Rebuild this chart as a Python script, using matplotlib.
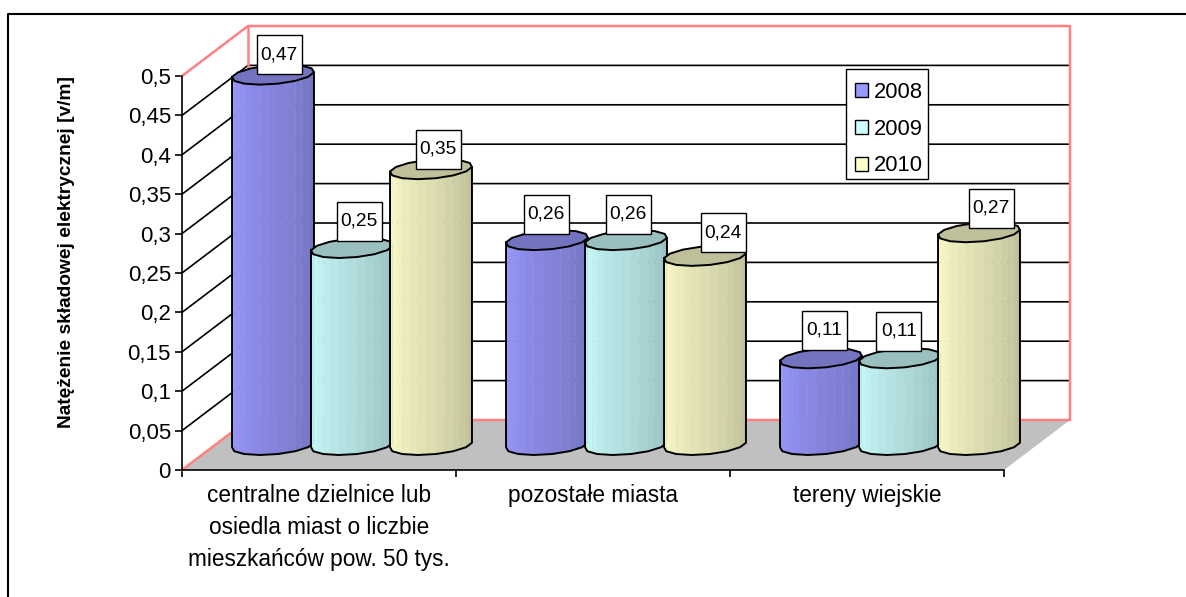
import numpy as np
import matplotlib
matplotlib.use("Agg")
import matplotlib.pyplot as plt
from matplotlib.patches import Patch, Rectangle

plt.rcParams['font.family'] = ['Liberation Sans', 'DejaVu Sans']

# data
categories = ["centralne dzielnice lub\nosiedla miast o liczbie\nmieszkańców pow. 50 tys.",
              "pozostałe miasta", "tereny wiejskie"]
years = ["2008", "2009", "2010"]
v2008 = [0.47, 0.26, 0.11]
v2009 = [0.25, 0.26, 0.11]
v2010 = [0.35, 0.24, 0.27]
yticks = [0, 0.05, 0.1, 0.15, 0.2, 0.25, 0.3, 0.35, 0.4, 0.45, 0.5]
yticklabels = ["0", "0,05", "0,1", "0,15", "0,2", "0,25", "0,3", "0,35", "0,4", "0,45", "0,5"]

colors = [(0.6, 0.6, 1.0), (0.8, 1.0, 1.0), (1.0, 1.0, 0.8)]
PINK = "#ff8080"

# hand placed value labels, pixels from the default spot
label_dx = [[6, -1, 3], [7, 2, -1], [7, 18, 12]]
label_dy = [[20, 26, 28], [27, 26, 27], [20, 23, 24]]

W, H = 1186, 597
fig = plt.figure(figsize=(W/100, H/100), dpi=100)
# front plane of the 3D box
ax = fig.add_axes([182/W, 1-470/H, 822/W, 394/H])
ax.set_xlim(0, 3)
ax.set_ylim(0, 0.5)
ax.patch.set_alpha(0)

# pixel sizes in data units
px = 3/822
py = 0.5/394
DX = 66*px   # full depth shift
DY = 50*py

def proj(x, y, d):
    return x + d*DX, y + d*DY

# only top and left of the chart frame are inside the crop
fig.add_artist(plt.Line2D([8/W, 8/W, 1], [0, 1-14/H, 1-14/H], color='k', lw=1.5,
                          transform=fig.transFigure))

# floor
fx = [proj(0, 0, 0)[0], proj(3, 0, 0)[0], proj(3, 0, 1)[0], proj(0, 0, 1)[0]]
fy = [proj(0, 0, 0)[1], proj(3, 0, 0)[1], proj(3, 0, 1)[1], proj(0, 0, 1)[1]]
ax.fill(fx, fy, color='#c0c0c0', lw=0, zorder=1, clip_on=False)

# wall grid
for t in yticks[1:-1]:
    x0, y0 = proj(0, t, 0)
    x1, y1 = proj(0, t, 1)
    x2, y2 = proj(3, t, 1)
    ax.plot([x0, x1, x2], [y0, y1, y2], color='k', lw=1.2, zorder=2, clip_on=False)

# pink outline of walls
xa, ya = proj(0, 0, 0)
xb, yb = proj(0, 0, 1)
xc, yc = proj(3, 0, 1)
xd, yd = proj(3, 0.5, 1)
xe, ye = proj(0, 0.5, 1)
xf, yf = proj(0, 0.5, 0)
ax.plot([xa, xb, xc, xd, xe, xf], [ya, yb, yc, yd, ye, yf], color=PINK, lw=1.8, zorder=3, clip_on=False)
ax.plot([xb, xe], [yb, ye], color=PINK, lw=1.8, zorder=3, clip_on=False)

# faceted cylinder
NF = 14
RX = 39*px
HD = 0.2

def cylinder(xc, val, col, z):
    t = np.linspace(0, 2*np.pi, NF, endpoint=False) + np.pi/NF
    ex = np.cos(t)*RX + np.sin(t)*HD*DX
    ey = np.sin(t)*HD*DY
    cx, cy = proj(xc, 0, 0.5)
    i0 = np.argmin(ex)
    i1 = np.argmax(ex)
    # front half runs from the left extreme to the right extreme through the low side
    idx = [(i0+k) % NF for k in range(NF)]
    idx = idx[:((i1-i0) % NF)+1]
    n = len(idx)-1
    # split each facet in strips so the side shades in steps
    strips = 2
    m = n*strips
    for k in range(n):
        a, b = idx[k], idx[k+1]
        for s in range(strips):
            f0, f1 = s/strips, (s+1)/strips
            xl = ex[a]+(ex[b]-ex[a])*f0
            xr = ex[a]+(ex[b]-ex[a])*f1
            yl = ey[a]+(ey[b]-ey[a])*f0
            yr = ey[a]+(ey[b]-ey[a])*f1
            shade = 1-0.25*((k*strips+s)/(m-1))
            c = tuple(v*shade for v in col)
            ax.fill([cx+xl, cx+xr, cx+xr, cx+xl],
                    [cy+yl, cy+yr, cy+yr+val, cy+yl+val],
                    color=c, lw=0.3, zorder=z, clip_on=False)
    # outline of the body
    ox = [cx+ex[i] for i in idx]
    oy = [cy+ey[i] for i in idx]
    ax.plot([ox[0]]+ox+[ox[-1]], [oy[0]+val]+oy+[oy[-1]+val], color='k', lw=1.4, zorder=z+0.1,
            clip_on=False)
    # top
    ax.fill(cx+ex, cy+ey+val, facecolor=tuple(v*0.75 for v in col), edgecolor='k', lw=1.4,
            zorder=z+0.2, clip_on=False)

centers = [0.5, 1.5, 2.5]
BW = 79*px
series = [v2008, v2009, v2010]
for j, vals in enumerate(series):
    for i, v in enumerate(vals):
        cylinder(centers[i] + (j-1)*BW, v, colors[j], 4+j)

# value labels
BOXW = 45*px
BOXH = 39*py
for j, vals in enumerate(series):
    for i, v in enumerate(vals):
        xc_, yc_ = proj(centers[i] + (j-1)*BW, v, 0.5)
        lx = xc_ + label_dx[j][i]*px
        ly = yc_ + label_dy[j][i]*py
        ax.add_patch(Rectangle((lx-BOXW/2, ly-BOXH/2), BOXW, BOXH, fc='w', ec='k', lw=1.0,
                               zorder=10, clip_on=False))
        ax.text(lx, ly, ("%.2f" % v).replace(".", ","), ha='center', va='center',
                fontsize=13.8, zorder=11)

# axes
for s in ['top', 'right']:
    ax.spines[s].set_visible(False)
for s in ['left', 'bottom']:
    ax.spines[s].set_linewidth(1.2)
    ax.spines[s].set_zorder(3.5)
ax.set_yticks(yticks)
ax.set_yticklabels(yticklabels, fontsize=16)
ax.set_xticks([0, 1, 2, 3])
ax.set_xticklabels([])
ax.set_xticks(centers, minor=True)
ax.set_xticklabels(categories, minor=True, fontsize=16.3, linespacing=1.5)
ax.tick_params(axis='x', which='minor', length=0, pad=10)
ax.tick_params(axis='both', which='major', length=5, width=1.2)
ax.tick_params(axis='y', pad=3)
fig.text(67/W, 1-252/H, "Natężenie składowej elektrycznej [v/m]", rotation=90, fontsize=13.8,
         fontweight='bold', ha='center', va='center')

# legend, frame drawn apart so rows can sit lower in it
ax.add_patch(Rectangle((846/W, 1-179/H), 82/W, 110/H, fc='w', ec='k', lw=1.0, zorder=11.5,
                       transform=fig.transFigure, clip_on=False))
handles = [Patch(facecolor=c, edgecolor='k', lw=1.0) for c in colors]
leg = ax.legend(handles, years, loc='upper left', bbox_to_anchor=(846/W, 1-73/H),
                bbox_transform=fig.transFigure, fontsize=15.8, frameon=False,
                handlelength=0.6, handleheight=0.6,
                handletextpad=0.27, labelspacing=0.72, borderpad=0.4, borderaxespad=0)
leg.set_zorder(12)

fig.savefig("out.png", dpi=100)
